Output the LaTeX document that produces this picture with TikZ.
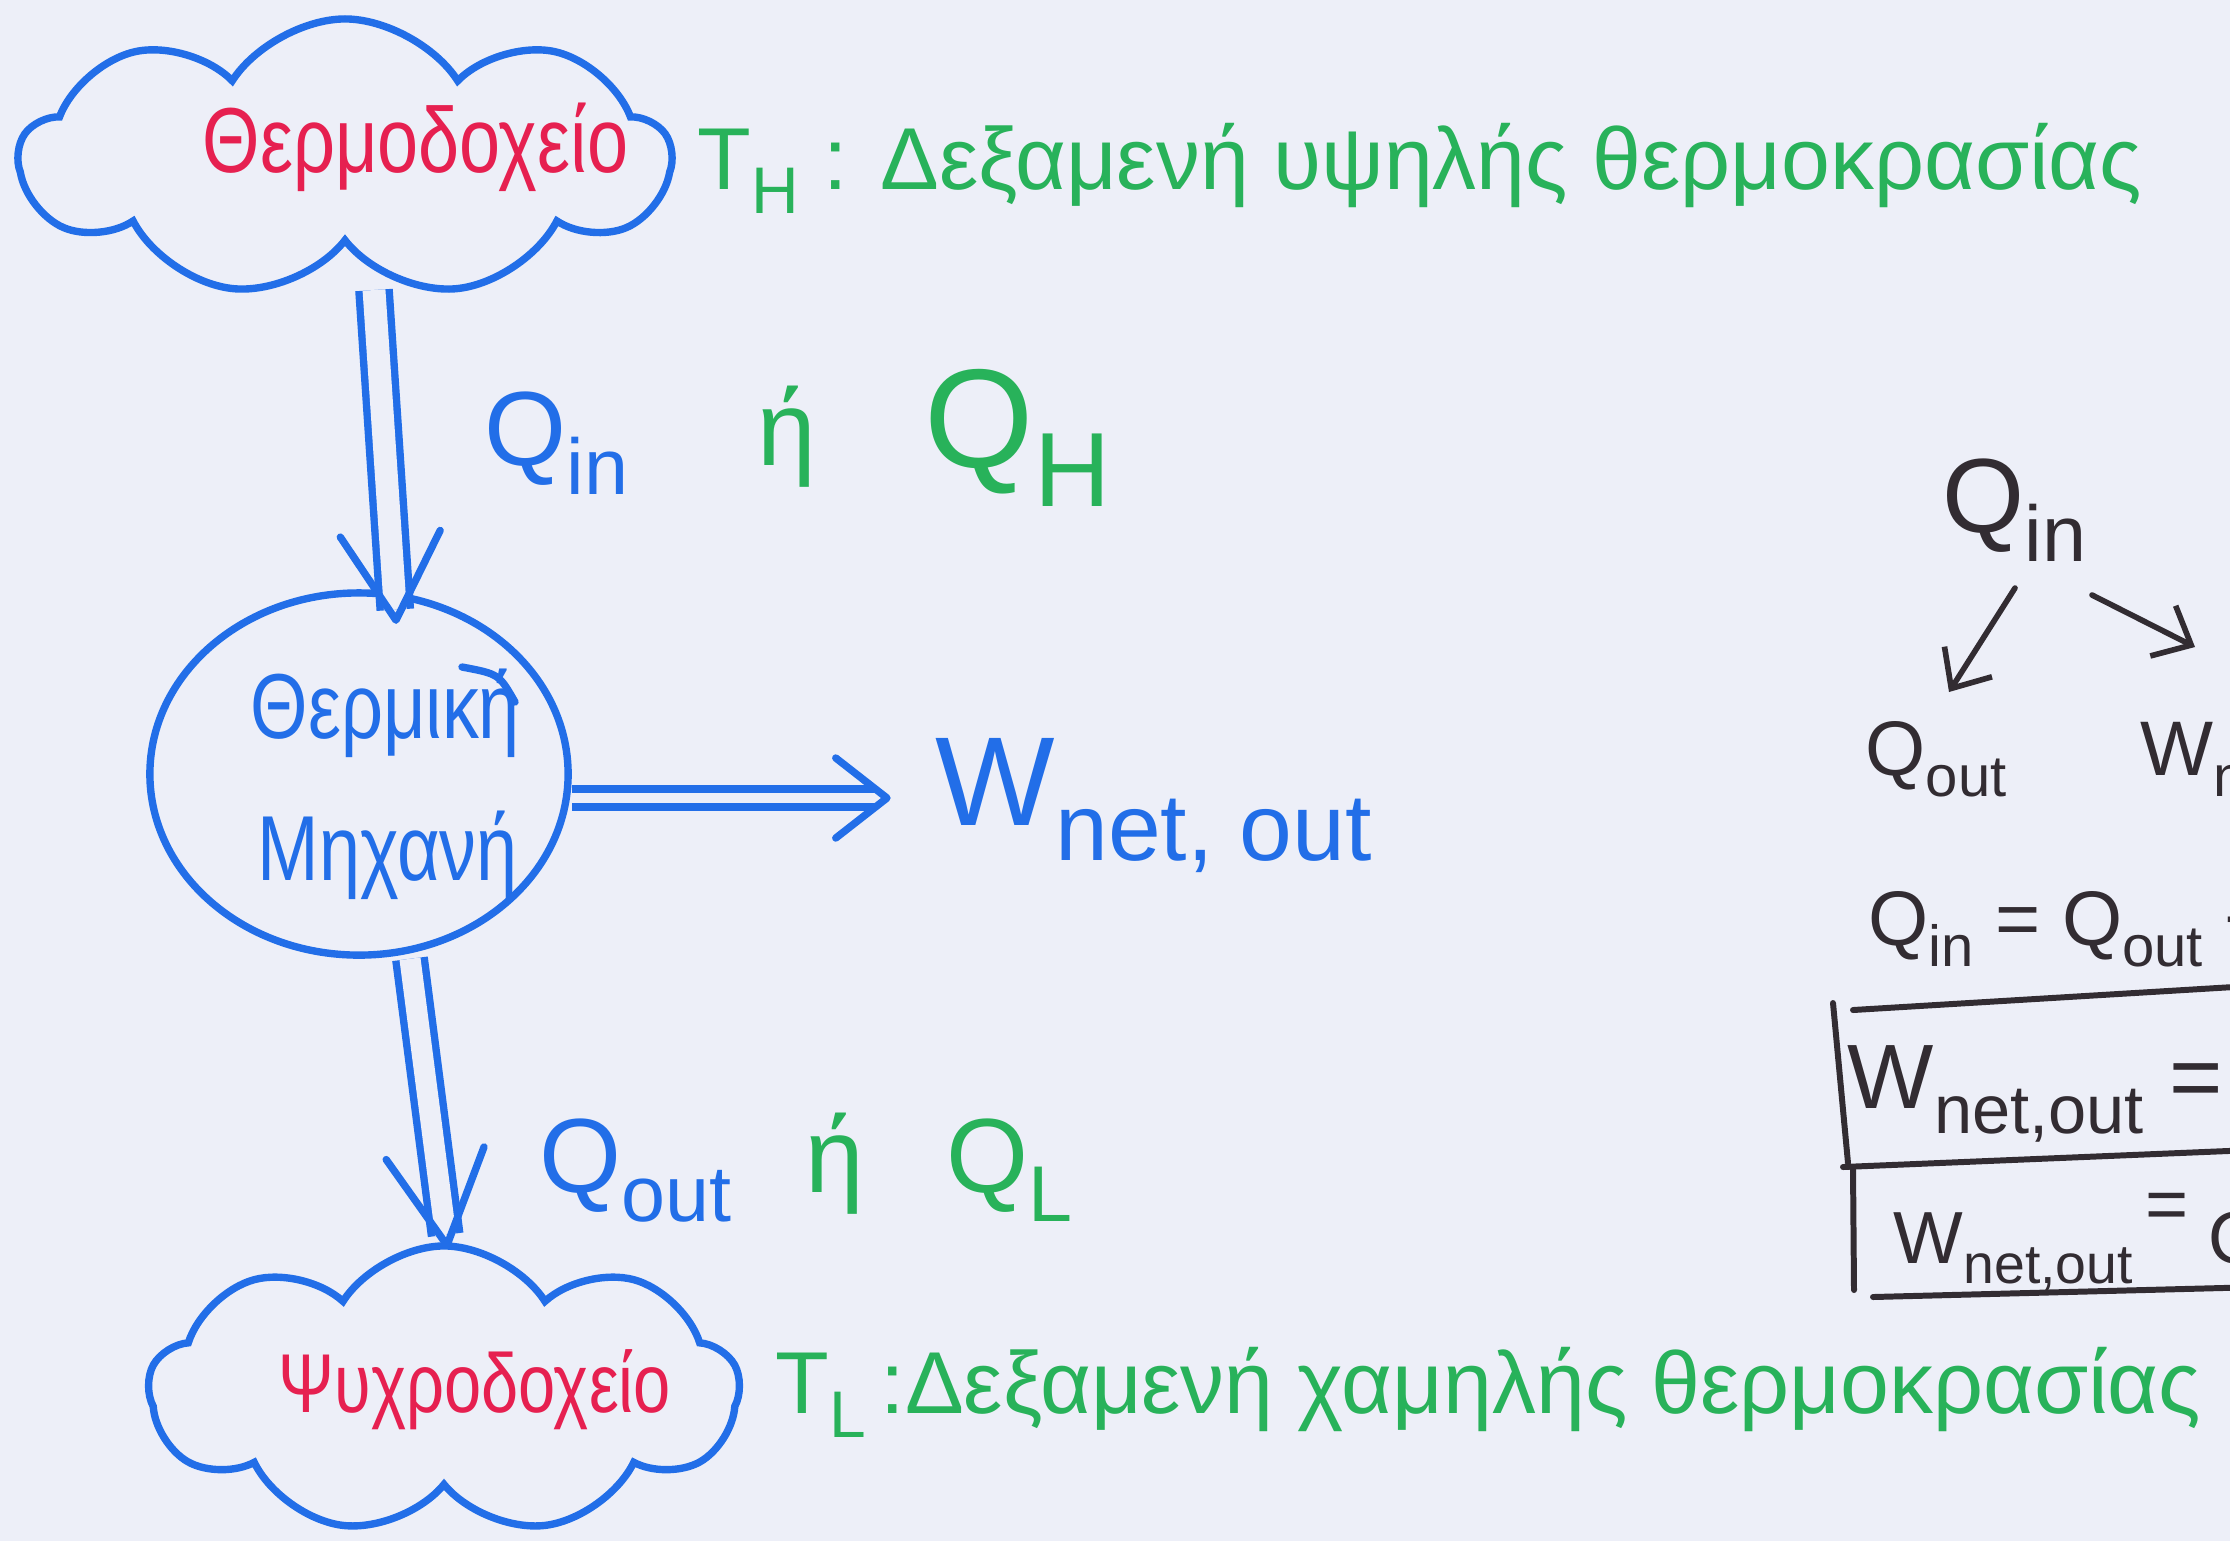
\documentclass[tikz,border=0pt]{standalone}
\usepackage{fontspec}
\usepackage{graphicx}
\setmainfont{Liberation Sans}
\usetikzlibrary{shapes.symbols,shapes.geometric,arrows.meta,calc}
\definecolor{penblue}{RGB}{34,110,232}
\definecolor{penred}{RGB}{230,32,80}
\definecolor{pengreen}{RGB}{40,178,90}
\definecolor{penink}{RGB}{50,44,50}
\definecolor{paper}{RGB}{237,239,248}
\newcommand\fsz[1]{\fontsize{#1}{#1}\selectfont}
\newcommand\lsub[1]{\raisebox{-0.28em}{\scalebox{0.75}{#1}}}
\newcommand\tallx[1]{\scalebox{1}[1.25]{#1}}
\begin{document}
\begin{tikzpicture}[x=0.01cm,y=-0.01cm,
  bluestroke/.style={draw=penblue,line width=2.1pt},
  cloudbox/.style={cloud,cloud puffs=9,cloud puff arc=115,cloud ignores aspect,bluestroke,inner sep=0pt},
  dblshaft/.style={draw=penblue,line width=2.1pt,double=paper,double distance=#1},
  vhead/.style={draw=penblue,line width=2.1pt,line cap=round,line join=round},
  lbl/.style={inner sep=0pt,anchor=base west},
  inkarrow/.style={draw=penink,line width=1.6pt,line cap=round,-{Straight Barb[length=9pt,width=16pt,line width=1.6pt]}},
  inkline/.style={draw=penink,line width=1.7pt,line cap=round},
]
\fill[paper] (0,0) rectangle (2230,1541);
\clip (0,0) rectangle (2230,1541);

% hot reservoir
\node[cloudbox,minimum width=6.5cm,minimum height=2.78cm] (hot) at (345,158) {};
\node[lbl,text=penred,font=\fsz{21}] (hotname) at (202,172) {\tallx{Θερμοδοχείο}};
\node[lbl,text=pengreen,font=\fsz{25}] (hottxt) at (697,189) {T\lsub{H} : Δεξαμενή υψηλής θερμοκρασίας};

% engine
\node[ellipse,bluestroke,minimum width=4.18cm,minimum height=3.62cm] (engine) at (359,774) {};
\draw[bluestroke,line cap=round] ($(engine.center)+(103,-107)$) .. controls ($(engine.center)+(140,-100)$) .. ($(engine.center)+(156,-72)$);
\node[lbl,text=penblue,font=\fsz{21}] (eng1) at (250,738) {\tallx{Θερμική}};
\node[lbl,text=penblue,font=\fsz{21}] (eng2) at (257,880) {\tallx{Μηχανή}};

% cold reservoir
\node[cloudbox,minimum width=5.9cm,minimum height=2.88cm] (cold) at (444,1390) {};
\node[lbl,text=penred,font=\fsz{19}] (coldname) at (278,1412) {\tallx{Ψυχροδοχείο}};
\node[lbl,text=pengreen,font=\fsz{25}] (coldtxt) at (775,1413) {T\lsub{L}\,:Δεξαμενή χαμηλής θερμοκρασίας};

% labels of the flows
\node[lbl,text=penblue,font=\fsz{30}] (qin) at (484,465) {Q\lsub{in}};
\node[lbl,text=pengreen,font=\fsz{30}] (or1) at (757,465) {ή};
\node[lbl,text=pengreen,font=\fsz{40}] (qh) at (924,467) {Q\lsub{H}};
\node[lbl,text=penblue,font=\fsz{36}] (wnet) at (935,825) {W\lsub{net, out}};
\node[lbl,text=penblue,font=\fsz{30}] (qout) at (539,1192) {Q\lsub{out}};
\node[lbl,text=pengreen,font=\fsz{30}] (or2) at (805,1192) {ή};
\node[lbl,text=pengreen,font=\fsz{30}] (ql) at (946,1192) {Q\lsub{L}};

% flows
\coordinate (a1s) at ($(hot.center)+(29,132)$);
\coordinate (a1e) at ($(engine.north)+(37,31)$);
\draw[dblshaft=6.5pt,shorten >=3pt] (a1s) -- (a1e);
\draw[vhead] ($(a1e)!1cm!30:(a1s)$) -- (a1e) -- ($(a1e)!1cm!-30:(a1s)$);

\coordinate (a2s) at ($(engine.south)+(51,0)$);
\coordinate (a2e) at ($(cold.north)+(3,3)$);
\draw[dblshaft=6pt,shorten >=3pt] (a2s) -- (a2e);
\draw[vhead] ($(a2e)!1.05cm!28:(a2s)$) -- (a2e) -- ($(a2e)!1.05cm!-28:(a2s)$);

\coordinate (a3s) at ($(engine.east)+(0,24)$);
\coordinate (a3e) at ($(wnet.base west)+(-48,-27)$);
\draw[dblshaft=3pt,shorten >=3pt] (a3s) -- (a3e);
\draw[vhead] ($(a3e)!0.65cm!38:(a3s)$) -- (a3e) -- ($(a3e)!0.65cm!-38:(a3s)$);

% energy balance (black)
\node[lbl,text=penink,font=\fsz{30}] (qinR) at (1942,532) {Q\lsub{in}};
\node[lbl,text=penink,font=\fsz{22}] (qoutR) at (1865,775) {Q\lsub{out}};
\node[lbl,text=penink,font=\fsz{22}] (wR) at (2140,775) {W\lsub{net, out}};
\draw[inkarrow] ($(qinR.base west)+(73,56)$) -- ($(qoutR.base west)+(84,-83)$);
\draw[inkarrow] ($(qinR.base west)+(150,63)$) -- ($(wR.base west)+(55,-128)$);
\node[lbl,text=penink,font=\fsz{22}] (eqR) at (1868,945) {Q\lsub{in} = Q\lsub{out} + W\lsub{net, out}};

\node[lbl,text=penink,font=\fsz{26}] (row1) at (1847,1108) {W\lsub{net,out} = Q\lsub{in} − Q\lsub{out}};
\node[lbl,text=penink,font=\fsz{21}] (row2) at (1893,1263) {W\lsub{net,out}\,\raisebox{0.45em}{=} Q\lsub{H} − Q\lsub{L}};

\draw[inkline] (1853,1010) -- (2300,983);
\draw[inkline] (1843,1167) -- (2300,1148);
\draw[inkline] (1873,1297) -- (2300,1286);
\draw[inkline] (1833,1003) -- (1848,1163);
\draw[inkline] (1853,1168) -- (1854,1290);
\end{tikzpicture}
\end{document}
